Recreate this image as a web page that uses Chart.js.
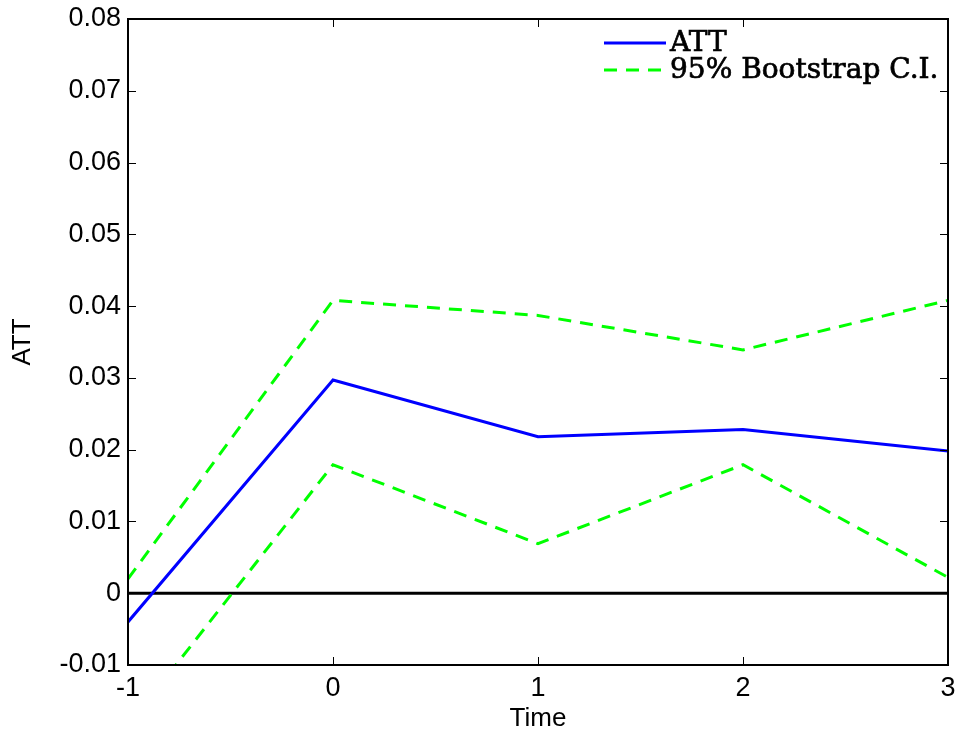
<!DOCTYPE html>
<html>
<head>
<meta charset="utf-8">
<script src="https://cdn.jsdelivr.net/npm/chart.js@4/dist/chart.umd.min.js"></script>
<style>
  html, body { margin: 0; padding: 0; background: #fff; }
  canvas { display: block; }
</style>
</head>
<body>
<canvas id="attChart" width="961" height="738"></canvas>
<script>
const timePoints = [-1, 0, 1, 2, 3];
const attValues = [-0.004, 0.0297, 0.0218, 0.0228, 0.0198];
const ciUpper = [0.002, 0.0408, 0.0387, 0.0339, 0.0408];
const ciLower = [-0.0185, 0.0179, 0.0069, 0.0179, 0.0022];
const zeroX = [-1, 3];
const zeroY = [0, 0];
const xTicks = [-1, 0, 1, 2, 3];
const yTicks = [-0.01, 0, 0.01, 0.02, 0.03, 0.04, 0.05, 0.06, 0.07, 0.08];

const toPoints = (xs, ys) => xs.map((x, i) => ({ x: x, y: ys[i] }));

// box around the plot area with inward tick marks on all four sides
const boxTicks = {
  id: "boxTicks",
  afterDraw(chart) {
    const { ctx, chartArea: a, scales } = chart;
    const len = 8;
    ctx.save();
    ctx.strokeStyle = "#000";
    ctx.lineWidth = 1;
    ctx.beginPath();
    xTicks.forEach((v) => {
      const px = Math.round(scales.x.getPixelForValue(v)) + 0.5;
      ctx.moveTo(px, a.bottom);
      ctx.lineTo(px, a.bottom - len);
      ctx.moveTo(px, a.top);
      ctx.lineTo(px, a.top + len);
    });
    yTicks.forEach((v) => {
      const py = Math.round(scales.y.getPixelForValue(v)) + 0.5;
      ctx.moveTo(a.left, py);
      ctx.lineTo(a.left + len, py);
      ctx.moveTo(a.right, py);
      ctx.lineTo(a.right - len, py);
    });
    ctx.stroke();
    ctx.lineWidth = 2;
    ctx.strokeRect(a.left, a.top, a.right - a.left, a.bottom - a.top);
    ctx.restore();
  },
};

// legend drawn inside the top right of the plot area
const insideLegend = {
  id: "insideLegend",
  afterDraw(chart) {
    const { ctx } = chart;
    const items = chart.data.datasets.filter((d) => d.label);
    const x0 = 604;
    const lineW = 62;
    let y = 44;
    ctx.save();
    ctx.font = "28px 'DejaVu Serif'";
    ctx.textBaseline = "middle";
    items.forEach((d) => {
      ctx.strokeStyle = d.borderColor;
      ctx.lineWidth = d.borderWidth;
      ctx.setLineDash(d.borderDash || []);
      ctx.beginPath();
      ctx.moveTo(x0, y - 1);
      ctx.lineTo(x0 + lineW, y - 1);
      ctx.stroke();
      ctx.fillStyle = "#000";
      ctx.lineWidth = 0.7;
      ctx.setLineDash([]);
      ctx.strokeStyle = "#000";
      ctx.fillText(d.label, x0 + lineW + 4, y);
      ctx.strokeText(d.label, x0 + lineW + 4, y);
      y += 27;
    });
    ctx.restore();
  },
};

const tickFont = { family: "'Liberation Sans', Arial", size: 27 };

new Chart(document.getElementById("attChart"), {
  type: "line",
  data: {
    datasets: [
      {
        label: "ATT",
        data: toPoints(timePoints, attValues),
        borderColor: "#0000ff",
        borderWidth: 3,
      },
      {
        label: "95% Bootstrap C.I.",
        data: toPoints(timePoints, ciUpper),
        borderColor: "#00ff00",
        borderWidth: 3,
        borderDash: [13, 9],
      },
      {
        label: "",
        data: toPoints(timePoints, ciLower),
        borderColor: "#00ff00",
        borderWidth: 3,
        borderDash: [13, 9],
      },
      {
        label: "",
        data: toPoints(zeroX, zeroY),
        borderColor: "#000000",
        borderWidth: 3,
      },
    ],
  },
  options: {
    responsive: false,
    animation: false,
    layout: { padding: { top: 19, right: 13, left: 0, bottom: 0 } },
    elements: {
      point: { radius: 0 },
      line: { tension: 0 },
    },
    plugins: {
      legend: { display: false },
      tooltip: { enabled: false },
    },
    scales: {
      x: {
        type: "linear",
        min: -1,
        max: 3,
        grid: { display: false, drawTicks: false },
        border: { display: false },
        afterBuildTicks: (scale) => {
          scale.ticks = xTicks.map((v) => ({ value: v }));
        },
        afterFit: (scale) => {
          scale.height = 73;
          scale.paddingLeft = 0;
          scale.paddingRight = 0;
        },
        ticks: {
          padding: 7,
          color: "#000",
          font: tickFont,
          callback: (v) => String(v),
        },
        title: {
          display: true,
          text: "Time",
          color: "#000",
          padding: { top: 0, bottom: 4 },
          font: { family: "'Liberation Sans', Arial", size: 26 },
        },
      },
      y: {
        type: "linear",
        min: -0.01,
        max: 0.08,
        grid: { display: false, drawTicks: false },
        border: { display: false },
        afterBuildTicks: (scale) => {
          scale.ticks = yTicks.map((v) => ({ value: v }));
        },
        afterFit: (scale) => {
          scale.width = 128;
          scale.paddingTop = 0;
          scale.paddingBottom = 0;
        },
        ticks: {
          padding: 7,
          color: "#000",
          font: tickFont,
          callback: (v) => String(Number(v.toFixed(2))),
        },
        title: {
          display: true,
          text: "ATT",
          color: "#000",
          padding: { top: 7, bottom: 0 },
          font: { family: "'Liberation Sans', Arial", size: 26 },
        },
      },
    },
  },
  plugins: [boxTicks, insideLegend],
});
</script>
</body>
</html>
